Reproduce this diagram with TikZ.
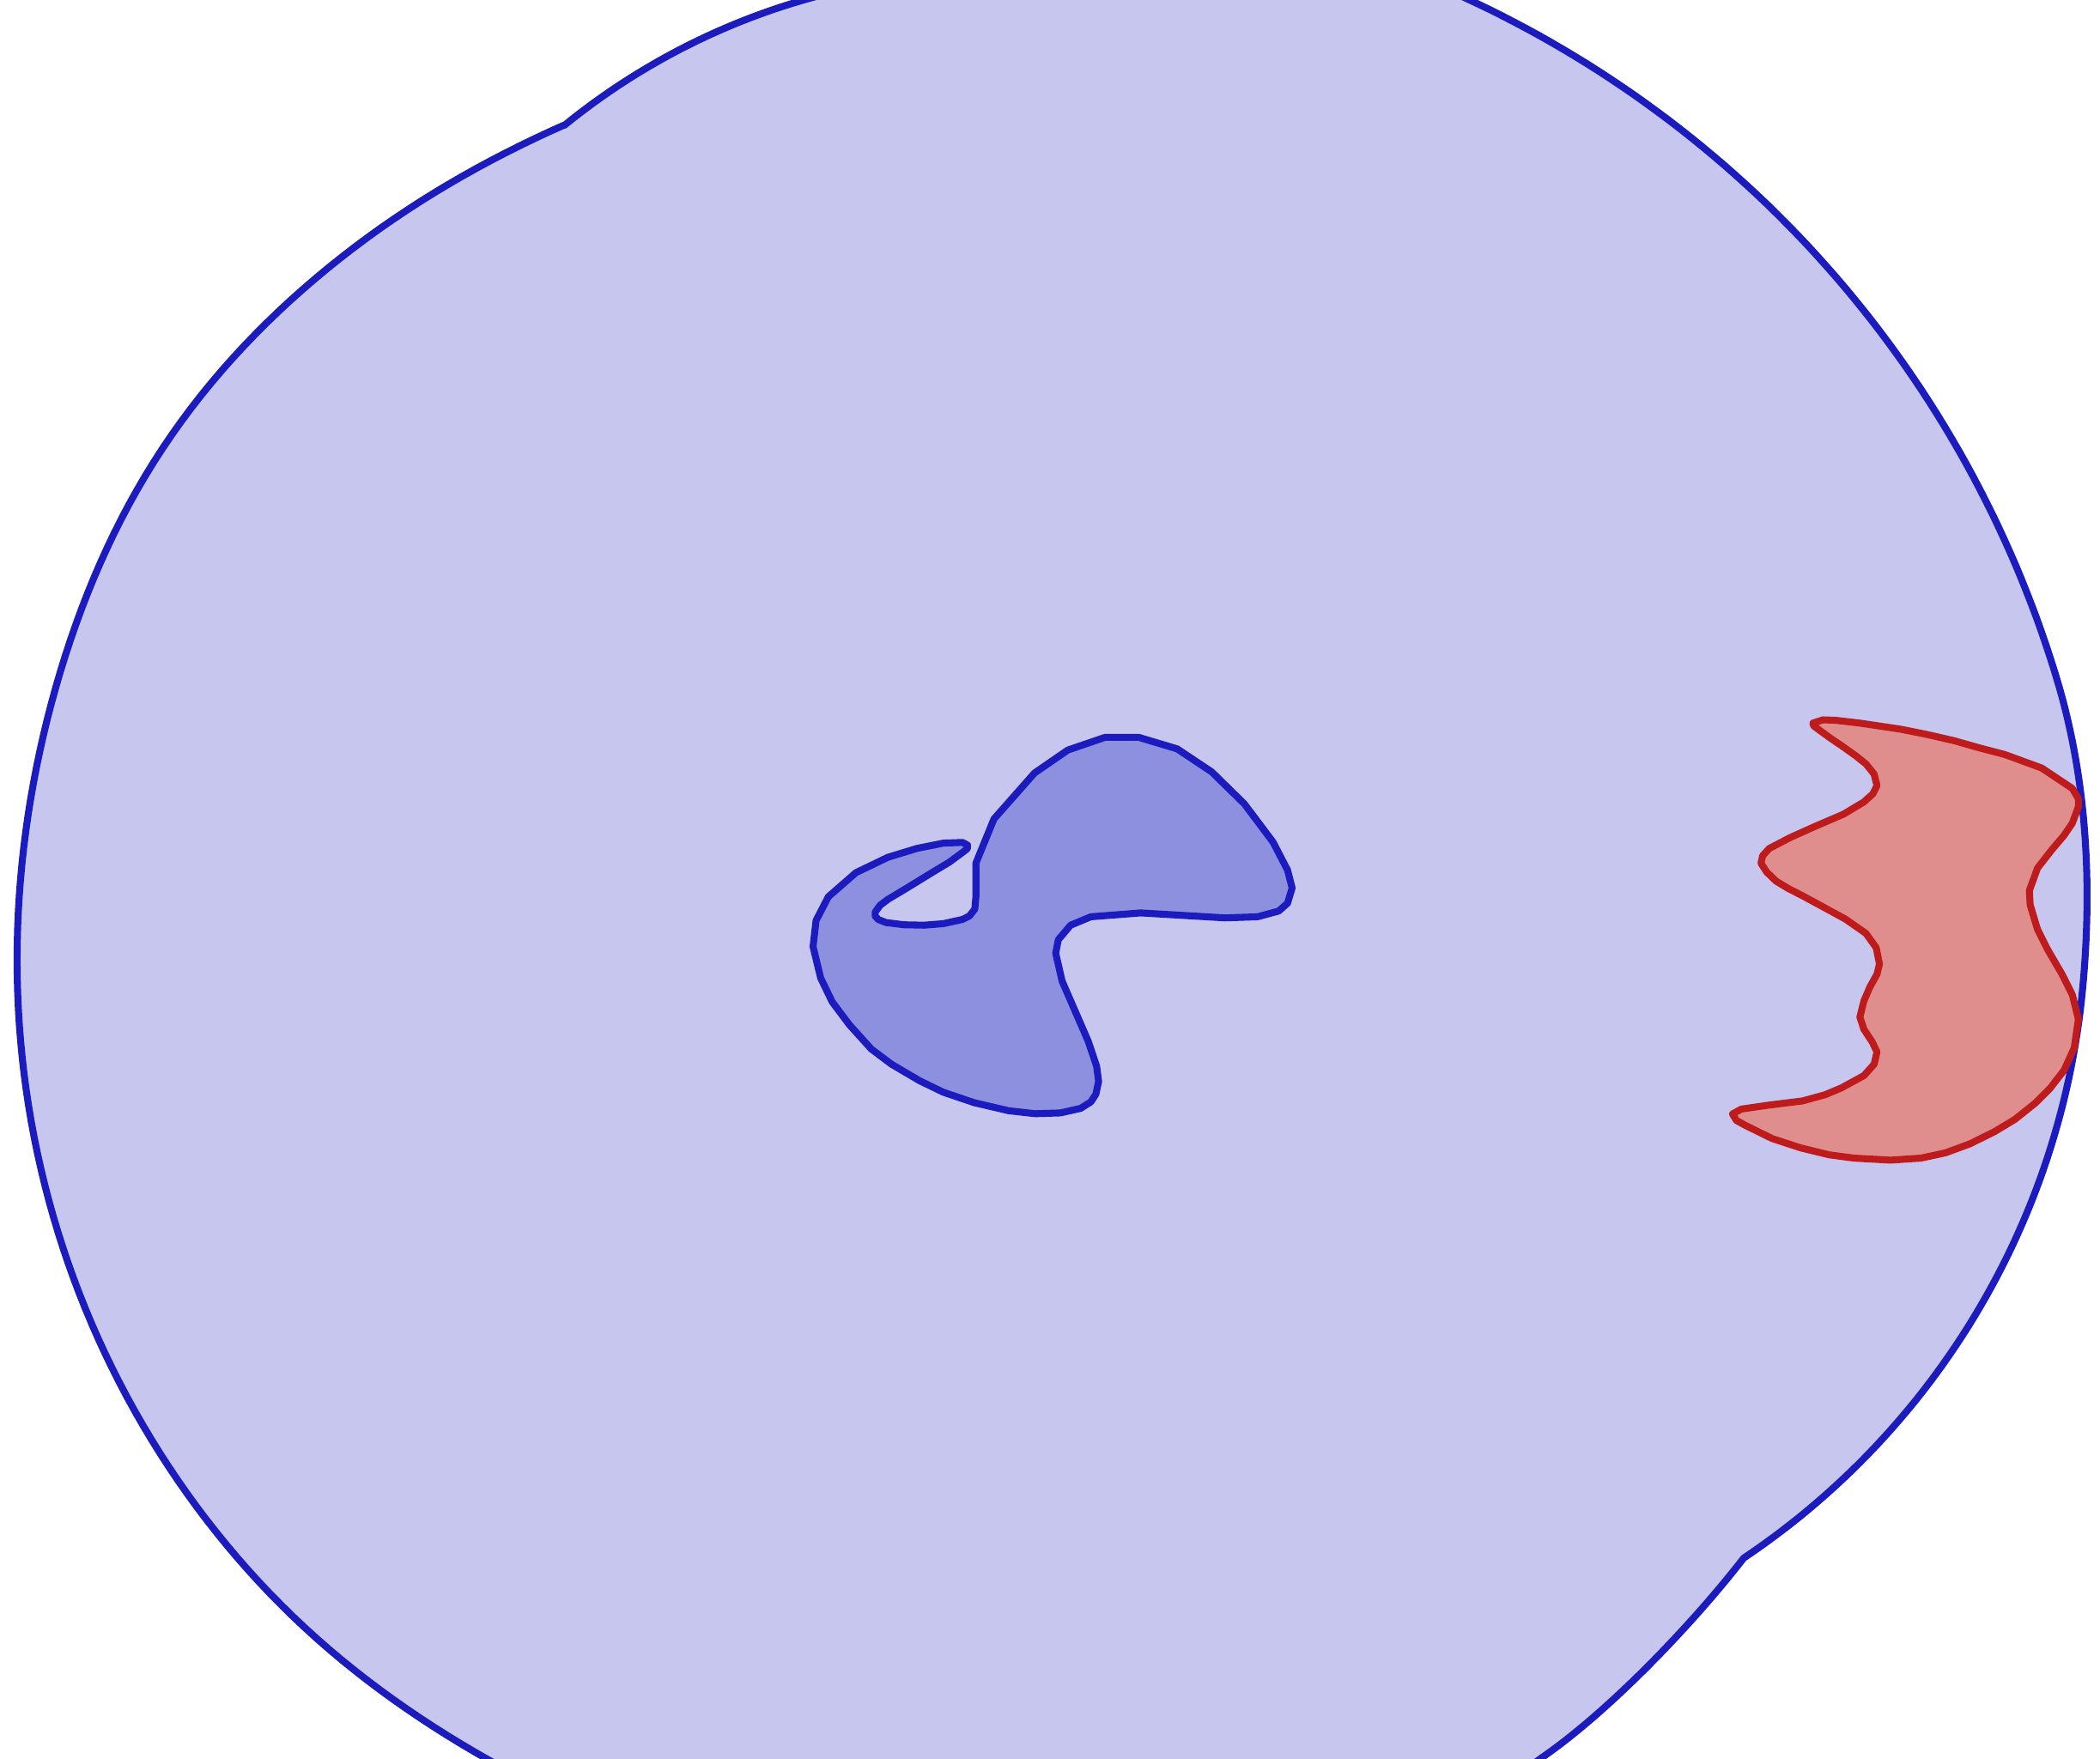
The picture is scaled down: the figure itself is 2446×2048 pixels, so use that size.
\documentclass[tikz,border=0pt]{standalone}
\usepackage{tikz}
\definecolor{bluestroke}{RGB}{28,28,190}
\definecolor{bigfill}{RGB}{198,198,238}
\definecolor{sfill}{RGB}{141,143,223}
\definecolor{redstroke}{RGB}{190,28,28}
\definecolor{redfill}{RGB}{224,141,141}
\tikzset{
  bigregion/.style={draw=bluestroke, fill=bigfill, line width=2.3pt, line join=round},
  sregion/.style={draw=bluestroke, fill=sfill, line width=2.3pt, line join=round},
  redregion/.style={draw=redstroke, fill=redfill, line width=2.3pt, line join=round}
}
\begin{document}
\begin{tikzpicture}[x=0.01cm, y=-0.01cm]
\useasboundingbox (0,0) rectangle (2446,2048);
\clip (0,0) rectangle (2446,2048);
% large region: arcs joined at two kinks
\draw[bigregion]
  plot[domain=-129.17:-101.4, samples=30, variable=\t] ({1155.5+789*cos(\t)},{757.8+789*sin(\t)})
  -- plot[domain=-75.06:-16.32, samples=80, variable=\t] ({1170+1280*cos(\t)},{1159.6+1280*sin(\t)})
  .. controls (2431.5,915) and (2436.5,1035) .. (2425.9,1150)
  -- plot[domain=5.25:56.16, samples=60, variable=\t] ({1529.9+899.8*cos(\t)},{1067.6+899.8*sin(\t)})
  .. controls (1972,1891) and (1875,1993) .. (1795,2048)
  -- (1700,2120) -- (1500,2220) -- (800,2220)
  -- plot[domain=105:246.03, samples=140, variable=\t]
     ({1090+(1070+11*exp(-((\t-214)/16)^2)-4*exp(-((\t-120)/12)^2)-4*exp(-((\t-246)/12)^2))*cos(\t)},
      {1120+(1070+11*exp(-((\t-214)/16)^2)-4*exp(-((\t-120)/12)^2)-4*exp(-((\t-246)/12)^2))*sin(\t)})
  -- cycle;
% S-shaped region
\draw[sregion] (1287.1,858.9) -- (1326.4,858.9) -- (1371.1,872.3) -- (1411.3,899.1)
 -- (1449.2,936.2) -- (1482.7,980.8) -- (1499.6,1013.4) -- (1505.0,1034.4)
 -- (1499.6,1052.2) -- (1489.4,1061.2) -- (1464.8,1067.9) -- (1426.9,1069.2)
 -- (1328.7,1063.4) -- (1270.6,1067.9) -- (1247.0,1077.7) -- (1232.7,1094.6)
 -- (1229.6,1110.3) -- (1237.1,1142.9) -- (1267.5,1212.9) -- (1277.3,1242.0)
 -- (1279.6,1259.8) -- (1276.4,1274.6) -- (1270.6,1283.5) -- (1258.6,1291.1)
 -- (1234.9,1296.4) -- (1205.9,1297.3) -- (1174.6,1293.8) -- (1134.5,1284.4)
 -- (1098.8,1272.3) -- (1071.1,1258.9) -- (1038.5,1239.7) -- (1014.8,1221.9)
 -- (989.4,1193.8) -- (969.3,1167.0) -- (955.9,1139.3) -- (947.0,1102.7)
 -- (950.5,1072.3) -- (964.8,1044.6) -- (997.0,1016.5) -- (1034.0,998.7)
 -- (1067.5,988.4) -- (1098.8,982.1) -- (1121.1,981.3) -- (1126.9,984.4)
 -- (1126.9,988.4) -- (1122.4,992.0) -- (1105.4,1004.5) -- (1085.4,1016.5)
 -- (1058.6,1033.0) -- (1034.0,1047.8) -- (1025.1,1054.5) -- (1019.3,1062.5)
 -- (1019.3,1067.0) -- (1022.9,1071.0) -- (1031.8,1074.6) -- (1052.8,1077.2)
 -- (1076.4,1077.7) -- (1098.8,1075.9) -- (1121.1,1071.0) -- (1129.1,1067.0)
 -- (1135.4,1058.9) -- (1136.7,1044.6) -- (1136.7,1005.4) -- (1157.7,954.0)
 -- (1205.0,900.4) -- (1243.8,873.7) -- cycle;
% red region
\draw[redregion] (2111.5,842.3) -- (2123.4,838.5) -- (2137.7,839.0) -- (2166.3,842.3)
 -- (2213.8,849.4) -- (2242.4,855.1) -- (2275.7,862.7) -- (2304.2,870.8)
 -- (2335.1,878.9) -- (2378.0,894.6) -- (2413.7,918.4) -- (2420.8,930.3)
 -- (2420.8,939.8) -- (2413.7,958.9) -- (2404.1,973.1) -- (2389.9,989.8)
 -- (2373.2,1011.2) -- (2363.7,1037.4) -- (2364.6,1054.0) -- (2373.2,1082.6)
 -- (2385.1,1106.3) -- (2401.8,1134.9) -- (2413.7,1158.7) -- (2420.8,1187.2)
 -- (2416.0,1220.5) -- (2404.1,1246.7) -- (2387.5,1268.1) -- (2370.8,1284.8)
 -- (2347.0,1303.8) -- (2323.3,1318.1) -- (2294.7,1332.3) -- (2266.2,1342.8)
 -- (2237.6,1349.0) -- (2201.9,1351.4) -- (2159.1,1349.0) -- (2130.6,1345.2)
 -- (2097.3,1337.1) -- (2064.0,1326.2) -- (2033.0,1310.9) -- (2022.6,1305.2)
 -- (2017.8,1297.6) -- (2028.3,1291.9) -- (2061.6,1287.1) -- (2099.6,1282.4)
 -- (2125.8,1275.2) -- (2144.8,1267.2) -- (2171.0,1252.9) -- (2182.9,1239.6)
 -- (2186.2,1225.3) -- (2180.5,1213.4) -- (2171.0,1199.1) -- (2166.3,1184.8)
 -- (2171.0,1165.8) -- (2178.2,1149.2) -- (2186.2,1134.9) -- (2189.1,1123.0)
 -- (2185.3,1104.0) -- (2173.4,1087.3) -- (2149.6,1070.7) -- (2123.4,1056.4)
 -- (2099.6,1043.5) -- (2083.0,1035.0) -- (2068.7,1026.4) -- (2057.8,1015.9)
 -- (2051.1,1005.5) -- (2053.0,996.9) -- (2060.6,988.4) -- (2085.4,975.5)
 -- (2113.9,962.7) -- (2147.2,948.4) -- (2171.0,934.1) -- (2181.5,924.6)
 -- (2186.2,915.1) -- (2182.9,901.8) -- (2173.4,889.9) -- (2161.5,880.4)
 -- (2144.8,868.5) -- (2130.6,858.9) -- (2117.7,849.4) -- (2112.5,845.6) -- cycle;
\end{tikzpicture}
\end{document}
